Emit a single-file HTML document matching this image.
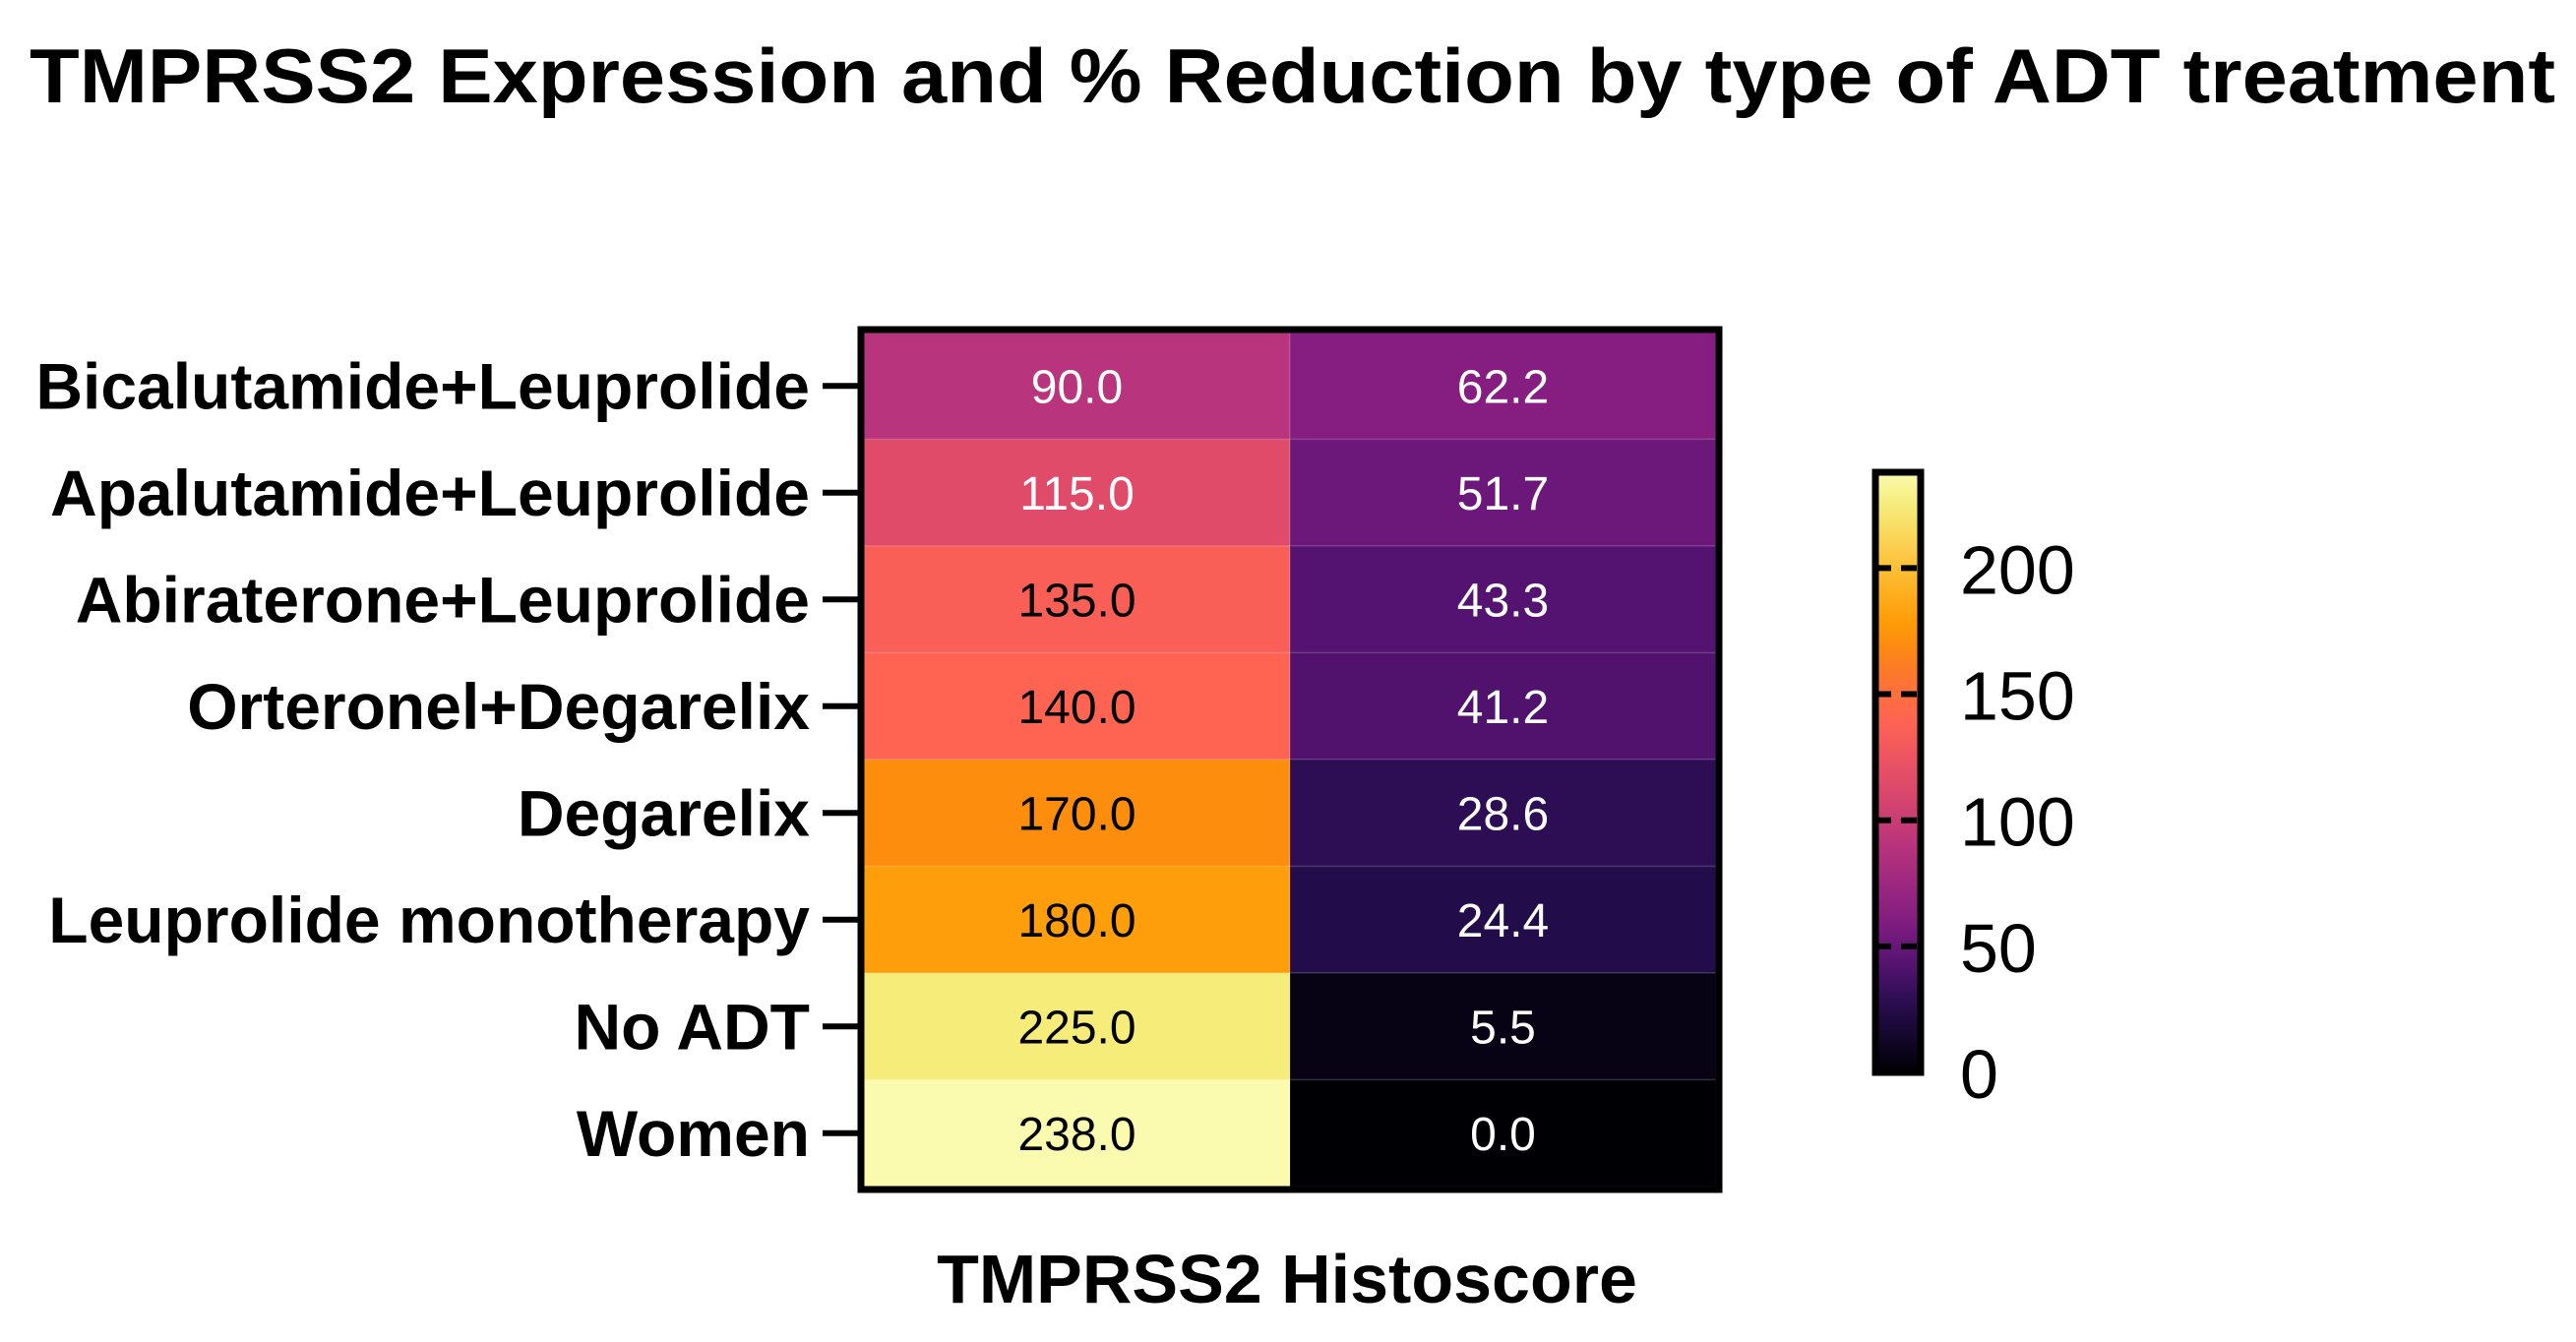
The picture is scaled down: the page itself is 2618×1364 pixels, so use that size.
<!DOCTYPE html>
<html><head><meta charset="utf-8">
<style>
html,body{margin:0;padding:0;background:#fff;}
svg{display:block;}
text{font-family:"Liberation Sans",Arial,sans-serif;}
</style></head>
<body>
<svg id="chart" width="2618" height="1364" viewBox="0 0 2618 1364" xmlns="http://www.w3.org/2000/svg">
<text x="30" y="104" font-size="78" font-weight="bold" textLength="2567" lengthAdjust="spacingAndGlyphs">TMPRSS2 Expression and % Reduction by  type of ADT treatment</text>
<g id="cells"></g>
<g id="ylabels"></g>
<rect x="875" y="335" width="872" height="874" fill="none" stroke="#000" stroke-width="7"/>
<text x="1308" y="1324" font-size="70" font-weight="bold" text-anchor="middle">TMPRSS2 Histoscore</text>
<defs><linearGradient id="cbgrad" x1="0" y1="1" x2="0" y2="0"></linearGradient></defs>
<g id="colorbar"></g>
</svg>
<script>
const categories = ["Bicalutamide+Leuprolide","Apalutamide+Leuprolide","Abiraterone+Leuprolide","Orteronel+Degarelix","Degarelix","Leuprolide monotherapy","No ADT","Women"];
const histoscore = [90.0,115.0,135.0,140.0,170.0,180.0,225.0,238.0];
const reduction = [62.2,51.7,43.3,41.2,28.6,24.4,5.5,0.0];
const colorbarTicks = [0,50,100,150,200];
const colorMin = 0, colorMax = 238;

const stops = [[0,[0,0,4]],[25,[35,12,75]],[45,[90,20,117]],[62,[134,30,130]],[90,[184,52,124]],[115,[224,75,106]],[140,[255,100,82]],[160,[252,122,40]],[175,[254,150,0]],[195,[255,183,42]],[225,[245,236,122]],[238,[251,251,176]]];
function colorOf(v){
  if(v<=stops[0][0]) return stops[0][1];
  for(let i=1;i<stops.length;i++){
    if(v<=stops[i][0]){
      const a=stops[i-1],b=stops[i],t=(v-a[0])/(b[0]-a[0]);
      return a[1].map((c,k)=>Math.round(c+(b[1][k]-c)*t));
    }
  }
  return stops[stops.length-1][1];
}
const rgb=c=>`rgb(${c[0]},${c[1]},${c[2]})`;
const NS="http://www.w3.org/2000/svg";
function mk(tag,attrs,parent){const e=document.createElementNS(NS,tag);for(const k in attrs)e.setAttribute(k,attrs[k]);parent.appendChild(e);return e;}

const gx0=878, gx1=1744, gy0=338, gy1=1206;
const colW=(gx1-gx0)/2;
const rowH=(gy1-gy0)/categories.length;
const xCol=i=>gx0+i*colW;
const yRow=i=>gy0+i*rowH;

const cells=document.getElementById('cells');
const ylab=document.getElementById('ylabels');
const series=[histoscore,reduction];
categories.forEach((cat,r)=>{
  series.forEach((s,c)=>{
    const col=colorOf(s[r]);
    const rect=mk('rect',{x:xCol(c),y:yRow(r),width:colW,height:rowH,fill:rgb(col),stroke:'rgba(255,255,255,0.12)','stroke-width':1.5},cells);
    
    
    const lum=(0.299*col[0]+0.587*col[1]+0.114*col[2])/255;
    const t=mk('text',{x:xCol(c)+colW/2,y:yRow(r)+rowH/2+17,'font-size':48,'text-anchor':'middle',fill:lum>0.52?'#000':'#fff'},cells);
    t.textContent=s[r].toFixed(1);
    
    
  });
  const cy=yRow(r)+rowH/2;
  const tk=mk('line',{x1:836,x2:872,y1:cy,y2:cy,stroke:'#000','stroke-width':6},ylab);
  
  
  const lt=mk('text',{x:823,y:cy+23,'font-size':66,'font-weight':'bold','text-anchor':'end'},ylab);
  lt.textContent=cat;
  
  
});

const grad=document.getElementById('cbgrad');
for(let i=0;i<=24;i++){
  const v=colorMin+(colorMax-colorMin)*i/24;
  mk('stop',{offset:(i/24),'stop-color':rgb(colorOf(v))},grad);
}
const cb=document.getElementById('colorbar');
const cbx0=1906, cbx1=1952, cbTop=480, cbBot=1090;
const cbY=v=>cbBot-(v-colorMin)/(colorMax-colorMin)*(cbBot-cbTop);
const cbr=mk('rect',{x:cbx0,y:cbTop,width:cbx1-cbx0,height:cbBot-cbTop,fill:'url(#cbgrad)',stroke:'#000','stroke-width':7},cb);


colorbarTicks.forEach(v=>{
  const y=cbY(v);
  if(v>colorMin){
    const d=mk('line',{x1:cbx0,x2:cbx1+4,y1:y,y2:y,stroke:'#000','stroke-width':6,'stroke-dasharray':'16,10'},cb);
    
    
  }
  const t=mk('text',{x:1992,y:y+26,'font-size':70},cb);
  t.textContent=String(v);
  
  
});
</script>
</body></html>
